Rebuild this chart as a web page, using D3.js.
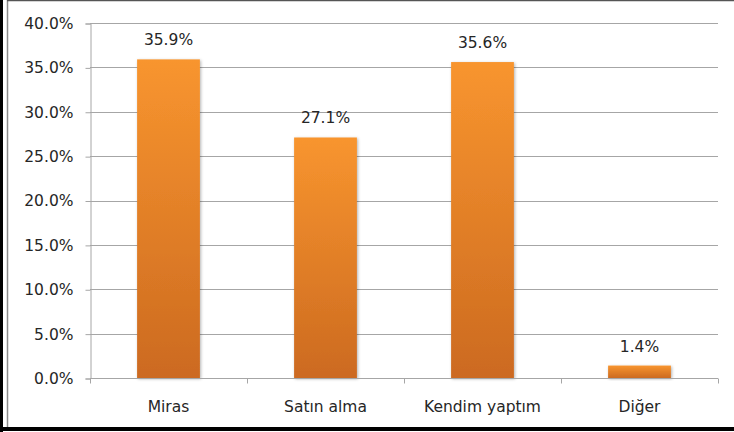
<!DOCTYPE html>
<html>
<head>
<meta charset="utf-8">
<script src="https://cdn.jsdelivr.net/npm/d3@7"></script>
<style>
  body { margin: 0; background: #fff; }
  text { font-family: "DejaVu Sans", sans-serif; fill: #262626; }
</style>
</head>
<body>
<div id="chart"></div>
<script>
// Chart data
var categories = ['Miras', 'Satın alma', 'Kendim yaptım', 'Diğer'];
var values = [35.9, 27.1, 35.6, 1.4];
var yTicks = [0, 5, 10, 15, 20, 25, 30, 35, 40];

var width = 734, height = 432;
var margin = { left: 90, right: 16, top: 23, bottom: 54 };

var svg = d3.select('#chart')
  .append('svg')
  .attr('width', width)
  .attr('height', height);

// gradient + shadow for the bars
var defs = svg.append('defs');
var grad = defs.append('linearGradient')
  .attr('id', 'barGrad')
  .attr('x1', 0).attr('y1', 0).attr('x2', 0).attr('y2', 1);
grad.append('stop').attr('offset', '0%').attr('stop-color', '#f8952f');
grad.append('stop').attr('offset', '100%').attr('stop-color', '#cc6a20');

var shadow = defs.append('filter')
  .attr('id', 'shadow')
  .attr('x', '-20%').attr('y', '-20%')
  .attr('width', '140%').attr('height', '140%');
shadow.append('feDropShadow')
  .attr('dx', 1).attr('dy', 1)
  .attr('stdDeviation', 1.5)
  .attr('flood-color', '#000')
  .attr('flood-opacity', 0.3);

// frame
svg.append('rect').attr('x', 0).attr('y', 0).attr('width', 3).attr('height', height).attr('fill', '#000');
svg.append('line').attr('x1', 7.5).attr('x2', 7.5).attr('y1', 0).attr('y2', 427)
  .attr('stroke', '#8a8a8a').attr('stroke-width', 1.5);
svg.append('line').attr('x1', 7).attr('x2', width).attr('y1', 0.5).attr('y2', 0.5)
  .attr('stroke', '#555').attr('stroke-width', 1.5);
svg.append('rect').attr('x', 0).attr('y', 427).attr('width', width).attr('height', 4).attr('fill', '#000');

// scales
var xScale = d3.scaleBand()
  .domain(categories)
  .range([margin.left, width - margin.right])
  .paddingInner(0.6)
  .paddingOuter(0.3);

var yScale = d3.scaleLinear()
  .domain([0, 40])
  .range([height - margin.bottom, margin.top]);

// gridlines
svg.append('g')
  .selectAll('line')
  .data(yTicks.slice(1))
  .enter()
  .append('line')
  .attr('x1', margin.left)
  .attr('x2', width - margin.right)
  .attr('y1', function(d) { return Math.round(yScale(d)) + 0.5; })
  .attr('y2', function(d) { return Math.round(yScale(d)) + 0.5; })
  .attr('stroke', '#a6a6a6')
  .attr('stroke-width', 1);

// y axis
var yAxis = svg.append('g')
  .attr('transform', 'translate(' + (margin.left + 0.5) + ',0.5)')
  .call(d3.axisLeft(yScale)
    .tickValues(yTicks)
    .tickSize(5)
    .tickPadding(12)
    .tickFormat(function(d) { return d.toFixed(1) + '%'; }));
yAxis.select('.domain').attr('stroke', '#a6a6a6');
yAxis.selectAll('.tick line').attr('stroke', '#a6a6a6');
yAxis.selectAll('.tick text')
  .style('font-family', '"DejaVu Sans", sans-serif')
  .style('font-size', '15.5px')
  .attr('fill', '#262626');

// bars
svg.append('g')
  .selectAll('rect')
  .data(values)
  .enter()
  .append('rect')
  .attr('x', function(d, i) { return xScale(categories[i]); })
  .attr('y', function(d) { return yScale(d); })
  .attr('width', xScale.bandwidth())
  .attr('height', function(d) { return yScale(0) - yScale(d); })
  .attr('fill', 'url(#barGrad)')
  .attr('filter', 'url(#shadow)');

// x axis
var step = xScale.step();
var xAxis = svg.append('g')
  .attr('transform', 'translate(0,' + (Math.round(yScale(0)) + 0.5) + ')');
xAxis.append('line')
  .attr('x1', margin.left).attr('x2', width - margin.right)
  .attr('stroke', '#a6a6a6');
xAxis.selectAll('.tk')
  .data(d3.range(categories.length + 1))
  .enter()
  .append('line')
  .attr('class', 'tk')
  .attr('x1', function(d) { return Math.round(margin.left + d * step) + 0.5; })
  .attr('x2', function(d) { return Math.round(margin.left + d * step) + 0.5; })
  .attr('y1', 0).attr('y2', 5)
  .attr('stroke', '#a6a6a6');
xAxis.selectAll('.lbl')
  .data(categories)
  .enter()
  .append('text')
  .attr('class', 'lbl')
  .attr('x', function(d) { return xScale(d) + xScale.bandwidth() / 2; })
  .attr('y', 33)
  .attr('text-anchor', 'middle')
  .style('font-size', '15.5px')
  .text(function(d) { return d; });

// value labels
svg.append('g')
  .selectAll('text')
  .data(values)
  .enter()
  .append('text')
  .attr('x', function(d, i) { return xScale(categories[i]) + xScale.bandwidth() / 2; })
  .attr('y', function(d) { return yScale(d) - 14; })
  .attr('text-anchor', 'middle')
  .style('font-size', '15.5px')
  .text(function(d) { return d.toFixed(1) + '%'; });
</script>
</body>
</html>
